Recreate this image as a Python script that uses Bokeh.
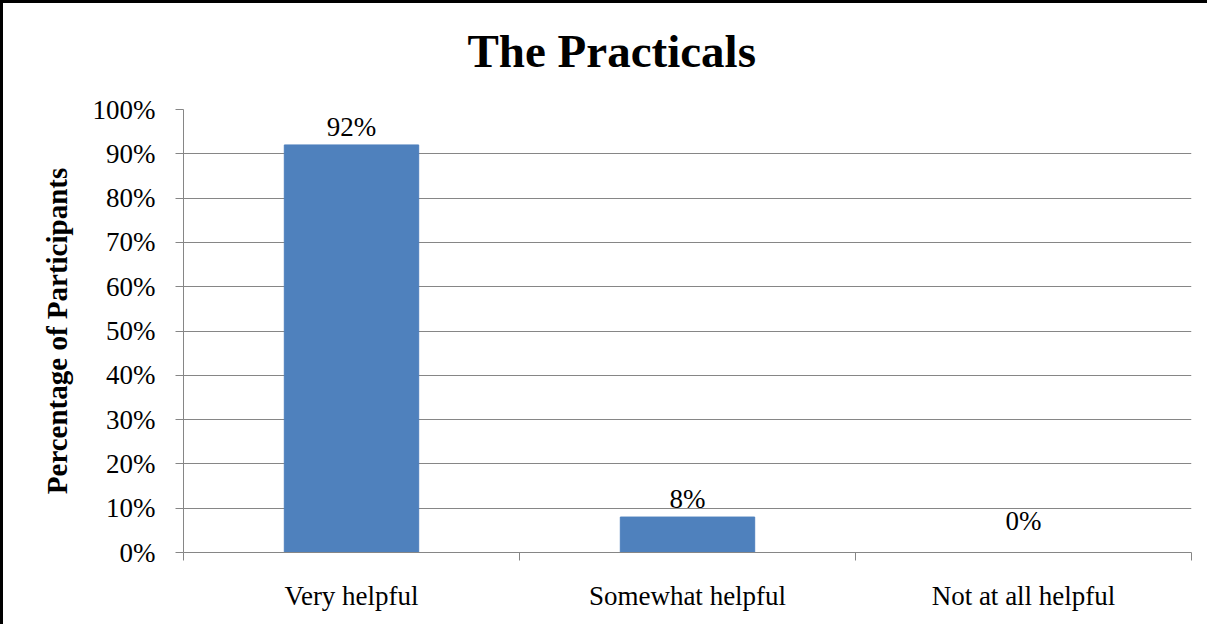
from bokeh.plotting import figure
from bokeh.models import ColumnDataSource, FixedTicker, NumeralTickFormatter, Title
from bokeh.embed import file_html
from bokeh.resources import INLINE

categories = ["Very helpful", "Somewhat helpful", "Not at all helpful"]
values = [0.92, 0.08, 0.0]
value_labels = ["92%", "8%", "0%"]
title_text = "The Practicals"
y_label = "Percentage of Participants"
y_ticks = [0.0, 0.1, 0.2, 0.3, 0.4, 0.5, 0.6, 0.7, 0.8, 0.9, 1.0]

FONT = "Liberation Serif"
GRAY = "#868686"

W, H = 1207, 624
BL, BR, BT, BB = 180, 19, 106, 75

xs = [i + 0.5 for i in range(len(categories))]
offsets = [-3 if v > 0 else -17 for v in values]
src = ColumnDataSource(dict(x=xs, top=values, lab=value_labels, off=offsets, cat=categories))

p = figure(width=W, height=H, x_range=(0, len(categories)), y_range=(0, 1),
           output_backend="svg", toolbar_location=None,
           min_border_left=BL, min_border_right=BR, min_border_top=BT, min_border_bottom=BB)
p.styles = {"border-top": "3px solid black", "border-left": "3px solid black", "box-sizing": "border-box"}
p.outline_line_color = None
p.background_fill_color = "white"
p.border_fill_color = "white"

# spacer between frame and title, then the title itself
p.add_layout(Title(text=" ", text_font_size="1px", standoff=25), "above")
p.add_layout(Title(text=title_text, text_font=FONT, text_font_style="bold", text_font_size="47px",
                   text_color="black", align="left", offset=284, standoff=10), "above")

p.vbar(x="x", top="top", bottom=0, width=0.4, source=src, fill_color="#4F81BD", line_color="#4F81BD")
p.text(x="x", y="top", text="lab", source=src, y_offset="off", text_align="center",
       text_baseline="bottom", text_font=FONT, text_font_size="27px", text_color="black")

# y axis
p.yaxis.ticker = FixedTicker(ticks=y_ticks)
p.yaxis.formatter = NumeralTickFormatter(format="0%")
p.yaxis.major_label_text_font = FONT
p.yaxis.major_label_text_font_size = "27px"
p.yaxis.major_label_text_color = "black"
p.yaxis.major_label_standoff = 20
p.yaxis.major_tick_out = 8
p.yaxis.major_tick_in = 0
p.yaxis.minor_tick_line_color = None
p.yaxis.axis_line_color = GRAY
p.yaxis.major_tick_line_color = GRAY
p.yaxis.axis_label = y_label
p.yaxis.axis_label_text_font = FONT
p.yaxis.axis_label_text_font_style = "bold"
p.yaxis.axis_label_text_font_size = "29px"
p.yaxis.axis_label_text_color = "black"
p.yaxis.axis_label_standoff = 17

# x axis
p.xaxis.ticker = FixedTicker(ticks=xs, minor_ticks=list(range(len(categories) + 1)))
p.xaxis.major_label_overrides = {x: c for x, c in zip(xs, categories)}
p.xaxis.major_tick_line_color = None
p.xaxis.minor_tick_line_color = GRAY
p.xaxis.minor_tick_out = 8
p.xaxis.minor_tick_in = 0
p.xaxis.axis_line_color = GRAY
p.xaxis.major_label_text_font = FONT
p.xaxis.major_label_text_font_size = "27px"
p.xaxis.major_label_text_color = "black"
p.xaxis.major_label_standoff = 20

p.xgrid.grid_line_color = None
p.ygrid.grid_line_color = GRAY
p.ygrid.grid_line_width = 1

open("out.html", "w").write(file_html(p, INLINE))
